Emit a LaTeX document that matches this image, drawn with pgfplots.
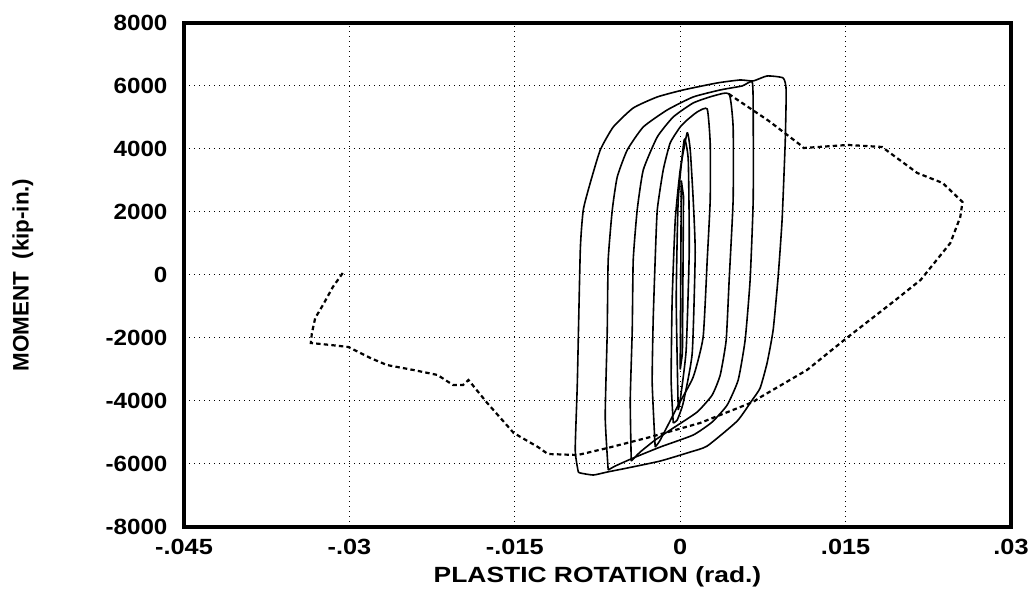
\documentclass[border=0pt]{standalone}
\usepackage{fontspec}
\setmainfont{Liberation Sans}
\usepackage{pgfplots}
\pgfplotsset{compat=1.18}
\begin{document}
\begin{tikzpicture}
\path[use as bounding box] (0,0) rectangle (516.5pt,301.5pt);
\begin{axis}[
  at={(92pt,38pt)}, anchor=south west,
  scale only axis, width=413.5pt, height=252pt,
  xmin=-0.045, xmax=0.03, ymin=-8000, ymax=8000,
  xtick={-0.045,-0.03,-0.015,0,0.015,0.03},
  xticklabels={-.045,-.03,-.015,0,.015,.03},
  ytick={-8000,-6000,-4000,-2000,0,2000,4000,6000,8000},
  yticklabels={-8000,-6000,-4000,-2000,0,2000,4000,6000,8000},
  scaled x ticks=false,
  tick style={draw=none},
  grid=major,
  major grid style={black, line width=0.5pt, dotted},
  axis line style={black, line width=1.6pt},
  xticklabel style={font=\bfseries\fontsize{11}{13}\selectfont, xscale=1.15, yshift=-2.5pt},
  yticklabel style={font=\bfseries\fontsize{11}{13}\selectfont, xscale=1.1, xshift=-4pt},
  xlabel={PLASTIC ROTATION (rad.)},
  ylabel={MOMENT\ \ (kip-in.)},
  xlabel style={font=\bfseries\fontsize{11}{13}\selectfont, xscale=1.2, at={(axis description cs:0.5,0)}, anchor=center, yshift=-25pt},
  ylabel style={font=\bfseries\fontsize{11.2}{13}\selectfont, at={(axis description cs:-0.195,0.5)}, anchor=center},
]
% dashed excursion
\addplot[black, line width=1.1pt, dash pattern=on 2.2pt off 1.6pt] coordinates {
(0.0044,5747) (0.0080,4900) (0.0109,4128) (0.0112,4032) (0.0152,4128) (0.0183,4064)
(0.0215,3238) (0.0238,2921) (0.0256,2318) (0.0254,1841) (0.0245,1016) (0.0218,-159)
(0.0193,-857) (0.0151,-2000) (0.0115,-3016) (0.0073,-3874) (0.0066,-4032) (0.0018,-4699)
(-0.0027,-5143) (-0.0066,-5493) (-0.0093,-5715) (-0.0120,-5683) (-0.0129,-5461)
(-0.0151,-5016) (-0.0175,-4064) (-0.0192,-3334) (-0.0197,-3493) (-0.0206,-3493)
(-0.0220,-3175) (-0.0242,-3016) (-0.0266,-2858) (-0.0281,-2635) (-0.0301,-2286)
(-0.0317,-2222) (-0.0335,-2159) (-0.0334,-1841) (-0.0331,-1365) (-0.0324,-953)
(-0.0315,-381) (-0.0306,64)
};
% loop 1 (largest)
\addplot[black, line width=0.8pt, smooth, tension=0.3] coordinates {
(-0.00924,-6255) (-0.00952,-5556) (-0.00933,-3429) (-0.00906,794) (-0.00879,2064)
(-0.00816,2921) (-0.00725,3969) (-0.00607,4699) (-0.00426,5302) (-0.00208,5652)
(0.00027,5874) (0.00335,6096) (0.00544,6191) (0.00662,6160) (0.00788,6318)
(0.00933,6255) (0.00961,5874) (0.00952,4191) (0.00924,1746) (0.00888,-64)
(0.00843,-1746) (0.00788,-2794) (0.00725,-3588) (0.00653,-3969) (0.00517,-4636)
(0.00245,-5429) (0.00091,-5620) (-0.00181,-5906) (-0.00480,-6128) (-0.00662,-6255)
(-0.00788,-6350) (-0.00906,-6287) (-0.00924,-6255)
};
% loop 2
\addplot[black, line width=0.8pt, smooth, tension=0.3] coordinates {
(-0.00653,-6191) (-0.00680,-4509) (-0.00662,-1842) (-0.00653,476) (-0.00616,2064)
(-0.00571,3112) (-0.00480,3969) (-0.00335,4699) (-0.00118,5239) (0.00118,5652)
(0.00363,5874) (0.00562,6001) (0.00653,6128) (0.00662,5239) (0.00662,2381)
(0.00634,-159) (0.00589,-2064) (0.00526,-3334) (0.00426,-4128) (0.00290,-4667)
(0.00118,-5080) (-0.00181,-5461) (-0.00426,-5810) (-0.00589,-6064) (-0.00653,-6191)
};
% loop 3
\addplot[black, line width=0.8pt, smooth, tension=0.3] coordinates {
(-0.00444,-5906) (-0.00453,-3969) (-0.00435,-1746) (-0.00426,476) (-0.00390,2064)
(-0.00335,3334) (-0.00208,4382) (-0.00063,5017) (0.00118,5461) (0.00299,5683)
(0.00444,5747) (0.00480,4699) (0.00480,2381) (0.00444,-159) (0.00417,-2064)
(0.00363,-3175) (0.00290,-3810) (0.00154,-4350) (-0.00063,-4858) (-0.00227,-5239)
(-0.00363,-5620) (-0.00444,-5906)
};
% loop 4
\addplot[black, line width=0.8pt, smooth, tension=0.3] coordinates {
(-0.00227,-5461) (-0.00254,-3429) (-0.00245,-1429) (-0.00227,476) (-0.00208,2064)
(-0.00154,3334) (-0.00091,4191) (0.0,4699) (0.00063,4921) (0.00154,5175)
(0.00245,5270) (0.00272,4191) (0.00272,2381) (0.00245,476) (0.00208,-1969)
(0.00118,-3239) (-0.00027,-4191) (-0.00181,-5239) (-0.00227,-5461)
};
% loop 5
\addplot[black, line width=0.8pt, smooth, tension=0.3] coordinates {
(-0.00063,-4699) (-0.00082,-3334) (-0.00073,-794) (-0.00045,1746) (0.0,3334)
(0.00063,4509) (0.00091,3969) (0.00118,2381) (0.00136,698) (0.00109,-2477)
(0.00027,-4064) (-0.00027,-4604) (-0.00063,-4699)
};
% loop 6
\addplot[black, line width=0.8pt, smooth, tension=0.3] coordinates {
(-0.00018,-4286) (-0.00036,-794) (-0.00018,2381) (0.00036,4286) (0.00073,3651)
(0.00082,794) (0.00054,-2381) (0.0,-3969) (-0.00018,-4286)
};
% loop 7 (elastic)
\addplot[black, line width=0.8pt] coordinates {
(0.0,-3000) (0.0001,3000) (0.0003,2500) (0.0002,-2500) (0.0,-3000)
};
\end{axis}
\end{tikzpicture}
\end{document}
